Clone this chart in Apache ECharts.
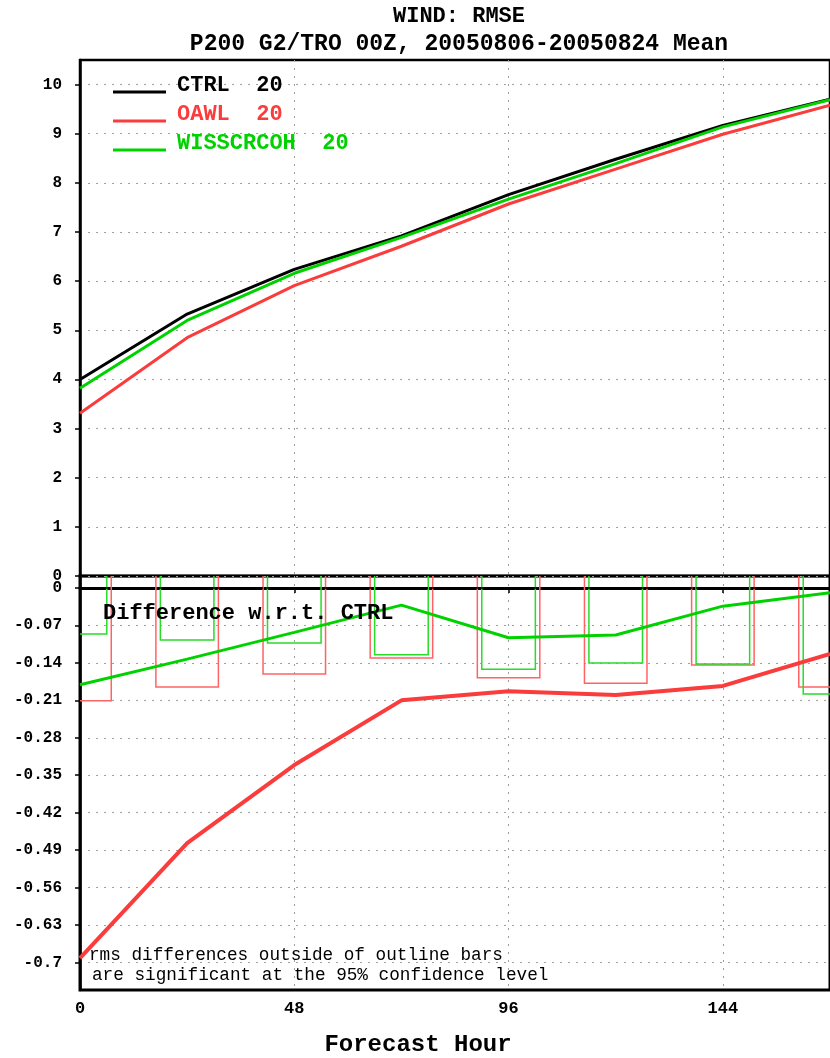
<!DOCTYPE html>
<html>
<head>
<meta charset="utf-8">
<script src="https://cdn.jsdelivr.net/npm/echarts@6/dist/echarts.min.js"></script>
<style>html,body{margin:0;padding:0;background:#fff}#c{width:830px;height:1058px}</style>
</head>
<body>
<div id="c"></div>
<script>
// ---------------- data ----------------
const hours = [0, 24, 48, 72, 96, 120, 144, 168];
const ctrlRmse = [4.00, 5.33, 6.24, 6.92, 7.76, 8.48, 9.17, 9.70];
const oawlRmse = [3.31, 4.85, 5.91, 6.71, 7.57, 8.28, 8.99, 9.58];
const wissRmse = [3.82, 5.20, 6.16, 6.89, 7.67, 8.39, 9.14, 9.69];
const oawlDiff = [-0.692, -0.477, -0.331, -0.210, -0.193, -0.200, -0.183, -0.123];
const wissDiff = [-0.181, -0.133, -0.083, -0.032, -0.093, -0.088, -0.034, -0.009];
const oawlSig = [0.211, 0.185, 0.161, 0.131, 0.168, 0.178, 0.144, 0.185];
const wissSig = [0.086, 0.097, 0.103, 0.125, 0.152, 0.140, 0.142, 0.198];
const upperTicks = [0, 1, 2, 3, 4, 5, 6, 7, 8, 9, 10];
const lowerTicks = [0, -0.07, -0.14, -0.21, -0.28, -0.35, -0.42, -0.49, -0.56, -0.63, -0.7];
const xTicks = [0, 48, 96, 144];
const seriesNames = ['CTRL', 'OAWL', 'WISSCRCOH'];
const caseCounts = [20, 20, 20];
const titleText = 'WIND: RMSE';
const subtitleText = 'P200 G2/TRO 00Z, 20050806-20050824 Mean';
const diffLabel = 'Difference w.r.t. CTRL';
const noteLines = ['rms differences outside of outline bars', 'are significant at the 95% confidence level'];
const xAxisTitle = 'Forecast Hour';

// ---------------- style ----------------
const FONT = '"Liberation Mono", "DejaVu Sans Mono", monospace';
const BLACK = '#000000', RED = 'rgb(250,60,60)', GREEN = 'rgb(0,210,0)';
const BAR_RED = 'rgb(255,100,100)', BAR_GREEN = 'rgb(40,220,40)';
const colors = [BLACK, RED, GREEN];

const pairs = ys => hours.map((h, i) => [h, ys[i]]);
const gridLine = {show: true, lineStyle: {color: '#a0a0a0', type: [2, 6], width: 1}};
const xLabelStyle = {fontFamily: FONT, fontWeight: 'bold', fontSize: 17, color: '#000'};
const yLabelStyle = {fontFamily: FONT, fontWeight: 'bold', fontSize: 16, color: '#000'};

function barRenderer(halfWidth, color) {
  return function (params, api) {
    const h = api.value(0), c = api.value(1);
    const a = api.coord([h - halfWidth, c]);
    const b = api.coord([h + halfWidth, -c]);
    return {
      type: 'rect',
      shape: {x: a[0], y: a[1], width: b[0] - a[0], height: b[1] - a[1]},
      style: {fill: 'none', stroke: color, lineWidth: 1.5}
    };
  };
}

const chart = echarts.init(document.getElementById('c'), null, {renderer: 'canvas'});

const legends = seriesNames.map((n, i) => ({
  data: [n],
  left: 113,
  top: 74 + i * 29,
  padding: 0,
  icon: 'rect',
  itemWidth: 53,
  itemHeight: 3,
  selectedMode: false,
  formatter: name => '{t|' + name + '  ' + caseCounts[i] + '}',
  textStyle: {
    rich: {t: {fontFamily: FONT, fontWeight: 'bold', fontSize: 22, color: colors[i], padding: [0, 0, 14, 6]}}
  }
}));

const option = {
  backgroundColor: '#ffffff',
  animation: false,
  title: [
    {text: titleText, left: 454, top: 0, textAlign: 'center',
     textStyle: {fontFamily: FONT, fontWeight: 'bold', fontSize: 22, color: '#000'}},
    {text: subtitleText, left: 454, top: 28, textAlign: 'center',
     textStyle: {fontFamily: FONT, fontWeight: 'bold', fontSize: 23, color: '#000'}}
  ],
  legend: legends,
  grid: [
    {left: 80, top: 60, width: 753, height: 516, show: true, borderColor: '#000', borderWidth: 2.5},
    {left: 80, top: 576, width: 753, height: 414, show: true, borderColor: '#000', borderWidth: 3}
  ],
  xAxis: [
    {gridIndex: 0, type: 'value', min: 0, max: 168, interval: 48,
     axisLine: {show: false}, axisTick: {show: false}, axisLabel: {show: false}, splitLine: gridLine},
    {gridIndex: 1, type: 'value', min: 0, max: 168, interval: 48,
     axisLine: {show: true, lineStyle: {color: '#000', width: 3}},
     axisTick: {show: true, length: 5, lineStyle: {color: '#000', width: 1.5}, customValues: xTicks},
     axisLabel: Object.assign({margin: 10, customValues: xTicks}, xLabelStyle),
     splitLine: gridLine}
  ],
  yAxis: [
    {gridIndex: 0, type: 'value', min: 0, max: 10.5, interval: 1,
     axisLine: {show: true, lineStyle: {color: '#000', width: 2.5}},
     axisTick: {show: true, length: 5, lineStyle: {color: '#000', width: 1.5}, customValues: upperTicks},
     axisLabel: Object.assign({margin: 18, customValues: upperTicks}, yLabelStyle),
     splitLine: gridLine},
    {gridIndex: 1, type: 'value', min: -0.7514, max: 0.0224,
     axisLine: {show: true, lineStyle: {color: '#000', width: 2.5}},
     axisTick: {show: true, length: 5, lineStyle: {color: '#000', width: 1.5}, customValues: lowerTicks},
     axisLabel: Object.assign({margin: 18, customValues: lowerTicks,
       formatter: v => (Math.abs(v) < 1e-9 ? '0' : String(+v.toFixed(2)))}, yLabelStyle),
     splitLine: gridLine}
  ],
  series: [
    {type: 'custom', name: 'OAWL sig', xAxisIndex: 1, yAxisIndex: 1, clip: true, z: 1,
     data: pairs(oawlSig), renderItem: barRenderer(7, BAR_RED)},
    {type: 'custom', name: 'WISSCRCOH sig', xAxisIndex: 1, yAxisIndex: 1, clip: true, z: 1,
     data: pairs(wissSig), renderItem: barRenderer(6, BAR_GREEN)},
    {type: 'line', name: 'CTRL', xAxisIndex: 0, yAxisIndex: 0, data: pairs(ctrlRmse), color: BLACK,
     symbol: 'none', lineStyle: {width: 3, color: BLACK}, z: 3},
    {type: 'line', name: 'OAWL', xAxisIndex: 0, yAxisIndex: 0, data: pairs(oawlRmse), color: RED,
     symbol: 'none', lineStyle: {width: 3, color: RED}, z: 3},
    {type: 'line', name: 'WISSCRCOH', xAxisIndex: 0, yAxisIndex: 0, data: pairs(wissRmse), color: GREEN,
     symbol: 'none', lineStyle: {width: 3, color: GREEN}, z: 3},
    {type: 'line', name: 'OAWL diff', xAxisIndex: 1, yAxisIndex: 1, data: pairs(oawlDiff), color: RED,
     symbol: 'none', lineStyle: {width: 4, color: RED}, z: 3},
    {type: 'line', name: 'WISSCRCOH diff', xAxisIndex: 1, yAxisIndex: 1, data: pairs(wissDiff), color: GREEN,
     symbol: 'none', lineStyle: {width: 3, color: GREEN}, z: 3,
     markLine: {silent: true, symbol: 'none', label: {show: false},
       lineStyle: {color: '#000', type: [7, 4], width: 1.5}, data: [{yAxis: 0}]}}
  ],
  graphic: [
    {type: 'text', z: 10, style: {text: diffLabel, x: 103, y: 613, font: 'bold 22px ' + FONT, fill: '#000',
      textAlign: 'left', textVerticalAlign: 'middle', align: 'left', verticalAlign: 'middle'}},
    {type: 'text', z: 10, style: {text: noteLines[0], x: 89, y: 955, font: '17.7px ' + FONT, fill: '#000',
      textAlign: 'left', textVerticalAlign: 'middle', align: 'left', verticalAlign: 'middle'}},
    {type: 'text', z: 10, style: {text: noteLines[1], x: 92, y: 975, font: '17.7px ' + FONT, fill: '#000',
      textAlign: 'left', textVerticalAlign: 'middle', align: 'left', verticalAlign: 'middle'}},
    {type: 'text', z: 10, style: {text: xAxisTitle, x: 418, y: 1045, font: 'bold 24px ' + FONT, fill: '#000',
      textAlign: 'center', textVerticalAlign: 'middle', align: 'center', verticalAlign: 'middle'}}
  ]
};
chart.setOption(option);
</script>
</body>
</html>
